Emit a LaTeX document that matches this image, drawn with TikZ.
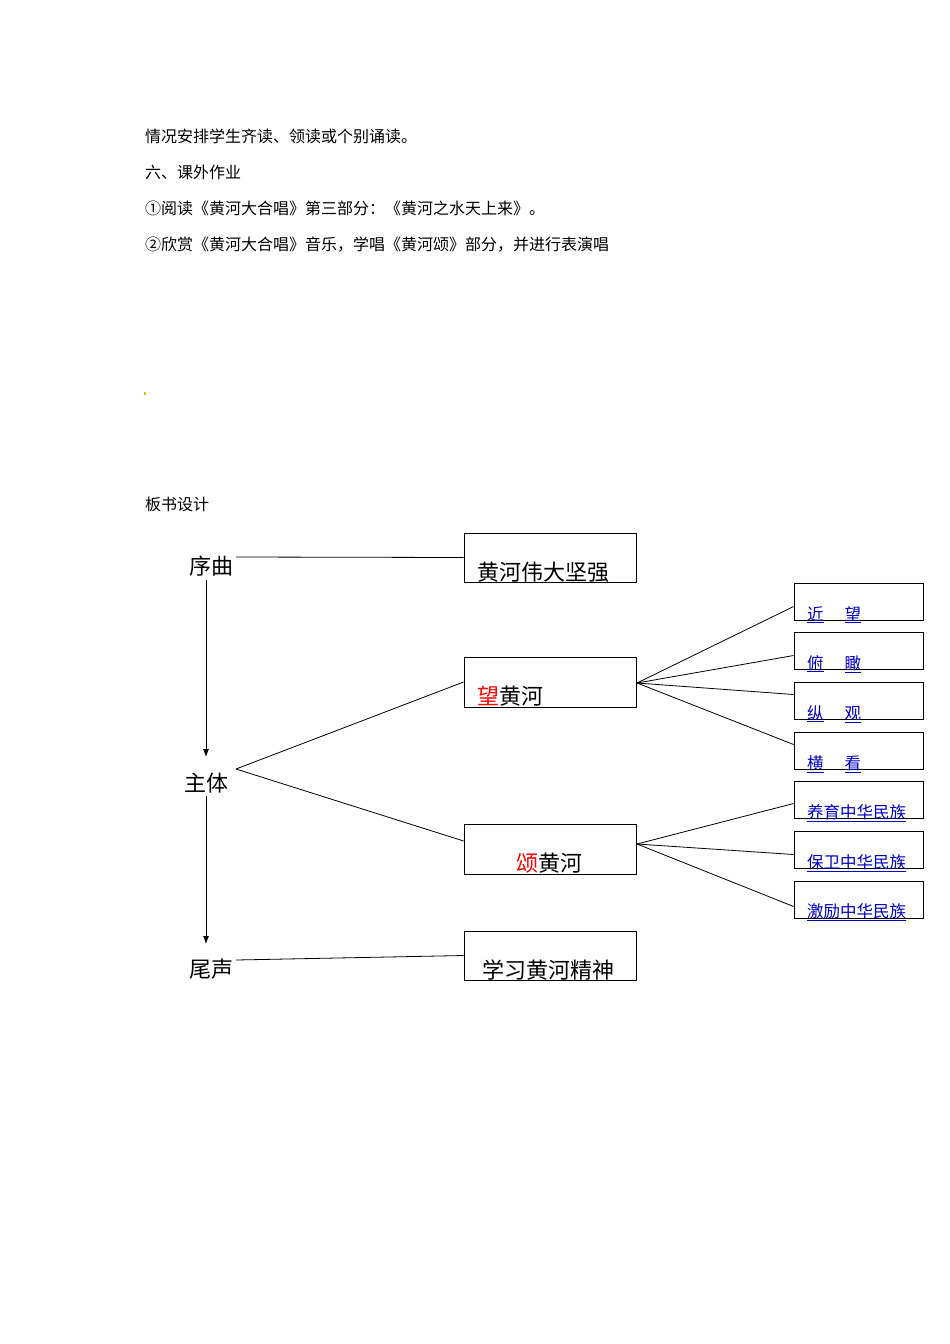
\documentclass[tikz,border=0pt]{standalone}
\usepackage{fontspec}
\setmainfont{Noto Sans CJK SC}
\usetikzlibrary{arrows.meta}
\tikzset{
 para/.style={anchor=base west,inner sep=0pt,font=\fontsize{16}{16}\selectfont},
 lbl/.style={anchor=base west,inner sep=0pt,font=\fontsize{22}{22}\selectfont},
 bx/.style={draw,line width=0.8pt,inner sep=0pt},
 sub/.style={anchor=base west,inner sep=0pt,text=blue!75!black,font=\fontsize{16.5}{16.5}\selectfont},
 ln/.style={line width=0.8pt},
 arr/.style={line width=0.8pt,-{Latex[length=8pt,width=6pt]}}
}
\newcommand{\ul}[1]{\underline{#1}}
\begin{document}
\begin{tikzpicture}[x=1pt,y=-1pt]
\useasboundingbox (0,0) rectangle (950,1344);
\node[para] (p1) at (145,142) {情况安排学生齐读、领读或个别诵读。};
\node[para] (p2) at (145,178) {六、课外作业};
\node[para] (p3) at (145,214) {①阅读《黄河大合唱》第三部分：《黄河之水天上来》。};
\node[para] (p4) at (145,250) {②欣赏《黄河大合唱》音乐，学唱《黄河颂》部分，并进行表演唱};
\fill[yellow!60!olive] (144,392) rectangle (146,395);
\node[para] (p5) at (145,510) {板书设计};
% left labels
\node[lbl] (xq) at (189,574) {序曲};
\node[lbl] (zt) at (184,791) {主体};
\node[lbl] (ws) at (189,977) {尾声};
\coordinate (xqE) at (236,557);
\coordinate (ztE) at (236,769);
\coordinate (wsE) at (236,960);
% main boxes
\node[bx,minimum width=172pt,minimum height=49pt] (b1) at (550,557.5) {};
\node[bx,minimum width=172pt,minimum height=50pt] (b2) at (550,682) {};
\node[bx,minimum width=172pt,minimum height=50pt] (b3) at (550,849) {};
\node[bx,minimum width=172pt,minimum height=49pt] (b4) at (550,955.5) {};
\node[lbl] (t1) at (477,580) {黄河伟大坚强};
\node[lbl] (t2) at (477,704) {\textcolor{red}{望}黄河};
\node[lbl] (t3) at (516,871) {\textcolor{red}{颂}黄河};
\node[lbl] (t4) at (482,978) {学习黄河精神};
% right boxes
\foreach \n/\y in {r1/583,r2/632,r3/682,r4/732,r5/781,r6/831,r7/881}{
  \node[bx,minimum width=129pt,minimum height=37pt] (\n) at (858.5,\y+18.5) {};
}
\node[sub] at (807,620) {\ul{近}\hspace{21pt}\ul{望}};
\node[sub] at (807,669) {\ul{俯}\hspace{21pt}\ul{瞰}};
\node[sub] at (807,719) {\ul{纵}\hspace{21pt}\ul{观}};
\node[sub] at (807,769) {\ul{横}\hspace{21pt}\ul{看}};
\node[sub] at (807,818) {\ul{养育中华民族}};
\node[sub] at (807,868) {\ul{保卫中华民族}};
\node[sub] at (807,917) {\ul{激励中华民族}};
% connectors
\draw[ln] (xqE) -- (b1.west);
\draw[ln] (wsE) -- (b4.west);
\draw[ln] (ztE) -- (b2.west);
\draw[ln] (ztE) -- ([yshift=8pt]b3.west);
\draw[arr] (206,580) -- (206,757);
\draw[arr] (206,796) -- (206,944);
\coordinate (f2) at (637,683);
\coordinate (f3) at (637,844);
\draw[ln] (f2) -- ([yshift=-5pt]r1.west);
\draw[ln] (f2) -- ([yshift=-5pt]r2.west);
\draw[ln] (f2) -- ([yshift=6pt]r3.west);
\draw[ln] (f2) -- ([yshift=6pt]r4.west);
\draw[ln] (f3) -- ([yshift=-4pt]r5.west);
\draw[ln] (f3) -- ([yshift=-5pt]r6.west);
\draw[ln] (f3) -- ([yshift=-7pt]r7.west);
\end{tikzpicture}
\end{document}
